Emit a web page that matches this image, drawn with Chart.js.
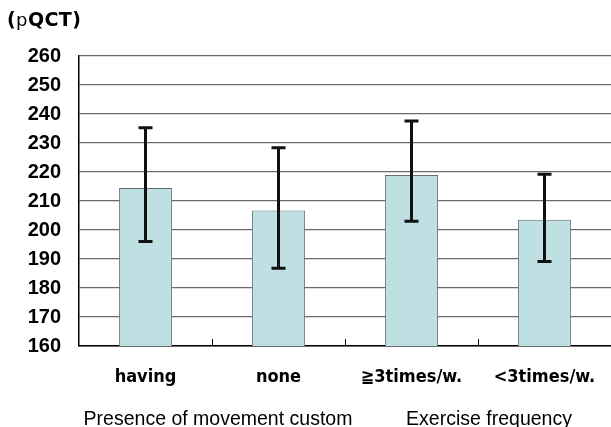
<!DOCTYPE html>
<html>
<head>
<meta charset="utf-8">
<script src="https://cdn.jsdelivr.net/npm/chart.js@4"></script>
<style>
  html, body { margin: 0; padding: 0; background: #fff; }
  #wrap { width: 611px; height: 427px; position: relative; }
</style>
</head>
<body>
<div id="wrap"><canvas id="c"></canvas></div>
<script>
// Categories and group captions
const categories = ['having', 'none', '\u22673times/w.', '<3times/w.'];
const groups = ['Presence of movement custom', 'Exercise frequency'];

// Mean values with error bar extents (pQCT)
const means = [214.5, 206.7, 219.0, 203.5];
const errHigh = [235.3, 228.4, 237.6, 219.2];
const errLow = [196.0, 186.8, 203.0, 189.1];

// Y-axis range
const yMin = 160;
const yMax = 260;
const yStep = 10;

const sansFont = '"Liberation Sans", Arial, sans-serif';
const labelFont = '"DejaVu Sans Condensed", "DejaVu Sans", sans-serif';

const extras = {
  id: 'extras',
  afterDatasetsDraw(chart) {
    const ctx = chart.ctx;
    const x = chart.scales.x;
    const y = chart.scales.y;
    const area = chart.chartArea;

    // small ticks at category boundaries, pointing into the plot
    ctx.save();
    ctx.strokeStyle = '#000';
    ctx.lineWidth = 1;
    for (let i = 1; i < categories.length; i++) {
      const bx = Math.round((x.getPixelForValue(i - 1) + x.getPixelForValue(i)) / 2) + 0.5;
      ctx.beginPath();
      ctx.moveTo(bx, area.bottom);
      ctx.lineTo(bx, area.bottom - 7);
      ctx.stroke();
    }

    // error bars
    ctx.strokeStyle = '#111';
    ctx.lineWidth = 3;
    ctx.lineCap = 'butt';
    for (let i = 0; i < means.length; i++) {
      const cx = x.getPixelForValue(i);
      const yt = y.getPixelForValue(errHigh[i]);
      const yb = y.getPixelForValue(errLow[i]);
      ctx.beginPath();
      ctx.moveTo(cx, yt);
      ctx.lineTo(cx, yb);
      ctx.moveTo(cx - 7, yt);
      ctx.lineTo(cx + 7, yt);
      ctx.moveTo(cx - 7, yb);
      ctx.lineTo(cx + 7, yb);
      ctx.stroke();
    }
    ctx.restore();
  },
  afterDraw(chart) {
    const ctx = chart.ctx;
    const x = chart.scales.x;

    // group captions below the category labels
    ctx.save();
    ctx.fillStyle = '#000';
    ctx.font = '19.5px ' + sansFont;
    ctx.textAlign = 'center';
    ctx.textBaseline = 'alphabetic';
    const g1 = (x.getPixelForValue(0) + x.getPixelForValue(1)) / 2 + 6;
    const g2 = (x.getPixelForValue(2) + x.getPixelForValue(3)) / 2 + 11;
    ctx.fillText(groups[0], g1, 425);
    ctx.fillText(groups[1], g2, 425);

    // unit caption "(pQCT)"
    ctx.textAlign = 'left';
    ctx.letterSpacing = '0.4px';
    let px = 7;
    const base = 26;
    const parts = [
      ['(', 'bold 19px '],
      ['p', '18px '],
      ['QCT)', 'bold 19px ']
    ];
    for (const [t, f] of parts) {
      ctx.font = f + '"DejaVu Sans", sans-serif';
      ctx.fillText(t, px, base);
      px += ctx.measureText(t).width;
    }
    ctx.restore();
  }
};

new Chart(document.getElementById('c'), {
  type: 'bar',
  data: {
    labels: categories,
    datasets: [{
      data: means,
      backgroundColor: '#BEE0E3',
      borderColor: '#666f70',
      borderWidth: 1,
      barPercentage: 0.4,
      categoryPercentage: 1.0
    }]
  },
  options: {
    responsive: true,
    maintainAspectRatio: false,
    animation: false,
    devicePixelRatio: 1,
    layout: { padding: { top: 56, right: 0, left: 0, bottom: 0 } },
    plugins: { legend: { display: false }, tooltip: { enabled: false } },
    scales: {
      x: {
        grid: { display: false, drawTicks: false },
        border: { display: true, color: '#000', width: 1.5 },
        ticks: {
          color: '#000',
          font: { family: labelFont, size: 18, weight: 'bold' },
          padding: 21,
          maxRotation: 0,
          autoSkip: false
        },
        afterFit(scale) {
          scale.height = 81;
          scale.paddingLeft = 0;
          scale.paddingRight = 0;
        }
      },
      y: {
        min: yMin,
        max: yMax,
        grid: { color: '#6b6b6b', lineWidth: 1.3, drawTicks: false },
        border: { display: true, color: '#000', width: 1.5 },
        ticks: {
          stepSize: yStep,
          color: '#000',
          font: { family: sansFont, size: 20, weight: 'bold' },
          padding: 18
        },
        afterFit(scale) { scale.width = 79; }
      }
    }
  },
  plugins: [extras]
});
</script>
</body>
</html>
